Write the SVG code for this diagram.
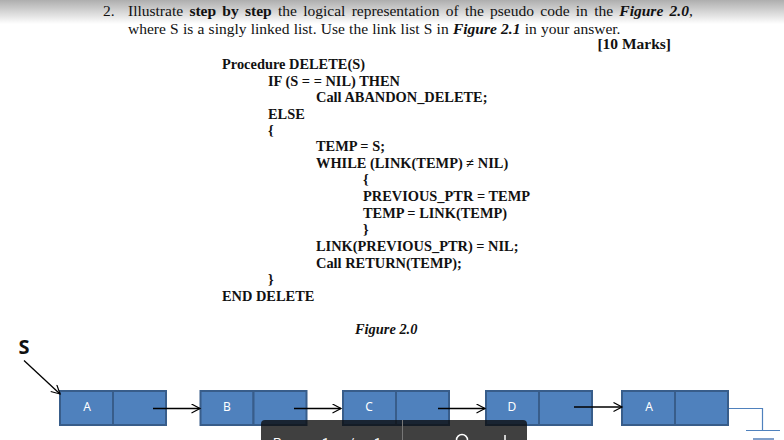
<svg xmlns="http://www.w3.org/2000/svg" width="784" height="440" viewBox="0 0 784 440">
<defs>
<linearGradient id="shade" x1="0" y1="0" x2="0" y2="1"><stop offset="0" stop-color="#aeaeae"/><stop offset="1" stop-color="#fff"/></linearGradient>
<marker id="open" markerWidth="12" markerHeight="12" refX="9.500" refY="5" orient="auto" markerUnits="userSpaceOnUse"><path d="M1 0.500L9.500 5L1 9.500" fill="none" stroke="#000" stroke-width="1.200"/></marker>
</defs>
<style>
text{font-family:"Liberation Serif","Times New Roman",serif;fill:#111}
.b{font-weight:700;font-size:14.400px}
.p{font-size:15.500px}
.bi{font-weight:700;font-style:italic}
.n{fill:#4f81bd;stroke:#385d8a;stroke-width:2}
.l{font-family:"Noto Sans","Liberation Sans",Arial,sans-serif;font-size:12px;fill:#fff;text-anchor:middle}
.c{stroke:#000;stroke-width:1.300;fill:none;marker-end:url(#open)}
.t{font-family:Roboto,"Liberation Sans",sans-serif;font-size:13px;fill:#fff}
</style>
<rect width="784" height="440" fill="#fff"/>
<rect width="784" height="24" fill="url(#shade)"/>
<g id="question">
<text class="p" x="103" y="16">2.</text>
<text class="p" x="128" y="16" word-spacing="2.400">Illustrate <tspan font-weight="700">step by step</tspan> the logical representation of the pseudo code in the <tspan class="bi">Figure 2.0</tspan>,</text>
<text class="p" x="128" y="34" word-spacing="0.350">where S is a singly linked list. Use the link list S in <tspan class="bi">Figure 2.1</tspan> in your answer.</text>
<text x="671" y="49" text-anchor="end" font-weight="700" font-size="15.500">[10 Marks]</text>
</g>
<g id="code" class="b">
<text x="222" y="69">Procedure DELETE(S)</text>
<text x="268" y="86">IF (S = = NIL) THEN</text>
<text x="316" y="102">Call ABANDON_DELETE;</text>
<text x="268" y="119">ELSE</text>
<text x="268" y="135">{</text>
<text x="316" y="151">TEMP = S;</text>
<text x="316" y="168">WHILE (LINK(TEMP) ≠ NIL)</text>
<text x="363" y="184">{</text>
<text x="363" y="201">PREVIOUS_PTR = TEMP</text>
<text x="363" y="218">TEMP = LINK(TEMP)</text>
<text x="363" y="234">}</text>
<text x="316" y="251">LINK(PREVIOUS_PTR) = NIL;</text>
<text x="316" y="268">Call RETURN(TEMP);</text>
<text x="268" y="284">}</text>
<text x="222" y="301">END DELETE</text>
<text x="355" y="334" font-style="italic">Figure 2.0</text>
</g>
<g id="s-label"><text x="24" y="354" text-anchor="middle" style="font-family:'Open Sans','Liberation Sans',sans-serif;font-weight:700;font-size:20px">S</text></g>
<g id="node-a"><rect class="n" x="60" y="391" width="53" height="34"/><rect class="n" x="113" y="391" width="53" height="34"/><text class="l" x="87" y="411">A</text></g>
<g id="node-b"><rect class="n" x="200.500" y="391" width="53" height="34"/><rect class="n" x="253.500" y="391" width="53" height="34"/><text class="l" x="227" y="411">B</text></g>
<g id="node-c"><rect class="n" x="343" y="391" width="53" height="34"/><rect class="n" x="396" y="391" width="53" height="34"/><text class="l" x="369" y="411">C</text></g>
<g id="node-d"><rect class="n" x="486" y="391" width="53" height="34"/><rect class="n" x="539" y="391" width="53" height="34"/><text class="l" x="512" y="411">D</text></g>
<g id="node-a2"><rect class="n" x="622" y="391" width="53" height="34"/><rect class="n" x="675" y="391" width="53" height="34"/><text class="l" x="649" y="411">A</text></g>
<g id="connectors">
<path class="c" d="M24 360.500L60 394"/>
<path class="c" d="M153 408.500H200"/>
<path class="c" d="M294 408.500H341"/>
<path class="c" d="M438 408.500H485"/>
<path class="c" d="M574 407H622"/>
<path d="M729 408.500H762.500V430M746 430.500H780" fill="none" stroke="#4f81bd" stroke-width="1.200"/>
<path d="M753 439H774" stroke="#7f9fca" stroke-width="2"/>
</g>
<g id="toolbar">
<path d="M261 440V424Q261 420 265 420H523Q527 420 527 424V440Z" fill="#0a0a0a" fill-opacity=".78"/>
<path d="M402.500 420V440" stroke="#777"/>
<text class="t" x="273" y="447">Page</text>
<text class="t" x="322" y="447">1</text>
<text class="t" x="349" y="447">/</text>
<text class="t" x="374" y="447">1</text>
<circle cx="462" cy="440" r="5.500" fill="none" stroke="#fff" stroke-width="1.500"/>
<path d="M505 435V440" stroke="#fff" stroke-width="1.500"/>
</g>
</svg>
